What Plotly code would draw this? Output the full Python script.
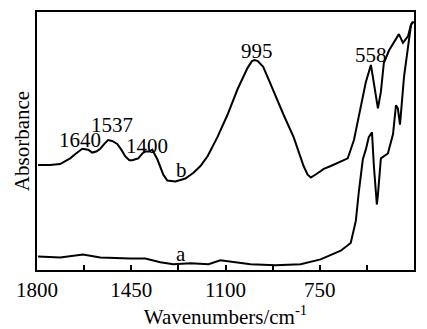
import plotly.graph_objects as go

# Curve b (upper spectrum): wavenumber (cm-1) and absorbance (arbitrary units)
wn_b = [1796, 1752, 1714, 1677, 1655, 1632, 1610, 1595, 1580, 1565, 1550, 1536,
        1521, 1502, 1487, 1472, 1457, 1446, 1435, 1424, 1409, 1398, 1383, 1372,
        1353, 1342, 1331, 1316, 1286, 1249, 1219, 1193, 1167, 1130, 1093, 1055,
        1018, 1002, 992, 980, 960, 940, 921, 884, 847, 828, 810, 795, 783, 761,
        735, 709, 683, 672, 646, 623, 597, 579, 560, 549, 534, 523, 512, 493,
        467, 456, 441, 422, 411, 400]
ab_b = [109, 109, 110, 116, 121, 126, 125, 122, 123, 126, 131, 135,
        134, 131, 125, 118, 114, 114, 115, 116, 121, 123, 123, 125,
        115, 106, 99, 93, 92, 95, 101, 108, 118, 138, 161, 188,
        210, 217, 218, 217, 211, 198, 185, 161, 138, 123, 108, 99, 96, 100,
        105, 108, 111, 113, 116, 135, 171, 195, 213, 195, 168, 185, 215, 228,
        240, 245, 236, 243, 255, 258]

# Curve a (lower spectrum)
wn_a = [1796, 1714, 1629, 1565, 1454, 1398, 1342, 1294, 1230, 1163, 1119, 1063,
        1007, 914, 821, 747, 672, 635, 616, 605, 590, 579, 568, 556, 549, 538,
        534, 523, 497, 478, 467, 460, 452, 437, 422, 411, 404]
ab_a = [14, 13, 16, 13, 12, 12, 8, 6, 7, 6, 10, 8,
        6, 5, 6, 11, 20, 28, 51, 81, 115, 125, 138, 143, 108, 68,
        78, 116, 121, 141, 171, 168, 151, 201, 235, 255, 258]

# Peak labels
peak_text = ["1640", "1537", "1400", "995", "558"]
peak_x = [1640, 1521, 1390, 984, 560]
peak_y = [135, 151, 129, 228, 223]

curve_text = ["a", "b"]
curve_x = [1264, 1264]
curve_y = [17, 104]

major_ticks = [1800, 1450, 1100, 750, 400]
major_labels = ["1800", "1450", "1100", "750", "400"]
minor_ticks = [1625, 1275, 925, 575]

FONT = "Liberation Serif"

fig = go.Figure()
fig.add_trace(go.Scatter(x=wn_a, y=ab_a, mode="lines",
                         line=dict(color="black", width=2), showlegend=False))
fig.add_trace(go.Scatter(x=wn_b, y=ab_b, mode="lines",
                         line=dict(color="black", width=2), showlegend=False))

for t, x, y in zip(peak_text + curve_text, peak_x + curve_x, peak_y + curve_y):
    fig.add_annotation(x=x, y=y, text=t, showarrow=False,
                       font=dict(family=FONT, size=21, color="black"))

fig.update_layout(
    width=427, height=329,
    margin=dict(l=37, r=13, t=10, b=51),
    plot_bgcolor="white", paper_bgcolor="white",
    font=dict(family=FONT, size=21, color="black"),
    xaxis=dict(range=[1800, 400], showline=True, linecolor="black", linewidth=2,
               mirror=True, ticks="inside", ticklen=5, tickwidth=1.5,
               tickcolor="black", tickvals=major_ticks, ticktext=major_labels,
               tickfont=dict(family=FONT, size=21),
               minor=dict(tickvals=minor_ticks, ticks="inside", ticklen=5,
                          tickwidth=1.5, tickcolor="black", showgrid=False),
               showgrid=False, zeroline=False,
               title=dict(text="Wavenumbers/cm<sup>-1</sup>", standoff=2,
                          font=dict(family=FONT, size=21))),
    yaxis=dict(range=[0, 268], showline=True, linecolor="black", linewidth=2,
               mirror=True, ticks="", showticklabels=False,
               showgrid=False, zeroline=False,
               title=dict(text="Absorbance", standoff=0,
                          font=dict(family=FONT, size=21))),
)

fig.write_html("out.html")
